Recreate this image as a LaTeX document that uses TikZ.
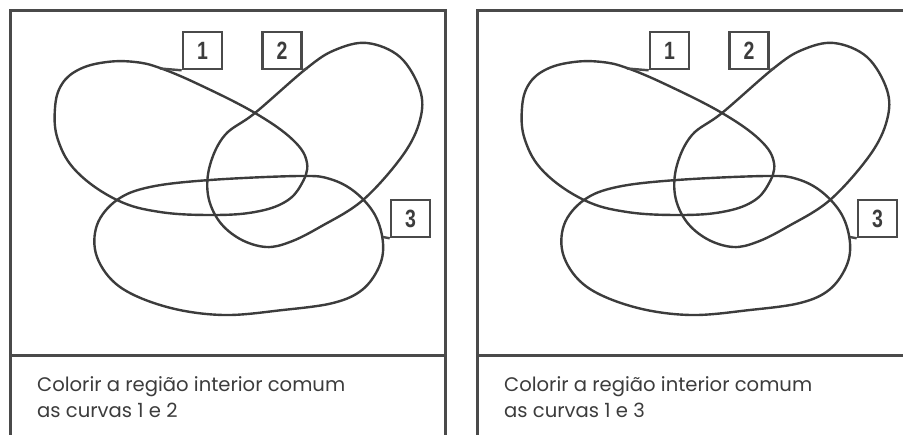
\documentclass[tikz,border=0pt]{standalone}
\usepackage{fontspec}
\setmainfont{Poppins}
\newfontfamily\numfont{Liberation Sans}
\definecolor{ink}{HTML}{3C3C3C}
\definecolor{frameink}{HTML}{4A4A4A}
\begin{document}
\begin{tikzpicture}[x=1pt,y=-1pt,
  frame/.style={draw=frameink, line width=3pt},
  curve/.style={draw=ink, line width=2.4pt, line join=round},
  tag/.style={draw=frameink, line width=2.6pt, minimum width=39pt, minimum height=37pt, inner sep=0pt,
    font=\numfont\bfseries\fontsize{25}{25}\selectfont, text=ink},
  leader/.style={draw=frameink, line width=2.4pt},
  caption/.style={anchor=base west, inner sep=0pt, font=\fontsize{19.6}{26}\selectfont, text=ink}]
\useasboundingbox (0,0) rectangle (903,435);
% frames
\draw[frame] (10.5,435) -- (10.5,10.5) -- (445,10.5) -- (445,435);
\draw[frame] (10.5,356) -- (445,356);
\draw[frame] (477,435) -- (477,10.5) -- (903,10.5);
\draw[frame] (477,356) -- (903,356);
\foreach \s/\k in {0/2, 467/3} {
\begin{scope}[xshift=\s pt]
  \draw[curve] plot[smooth cycle, tension=0.65] coordinates {
    (55,108) (62,84) (80,69) (107,62) (135,62) (160,68) (200,85) (255,113) (293,140)
    (307,163) (301,185) (285,202) (255,212) (213,215) (160,212) (117,200) (77,172) (58,140)};
  \draw[curve] plot[smooth cycle, tension=0.6] coordinates {
    (367,43) (400,57) (420,90) (420,120) (403,155) (363,200) (320,227) (290,242)
    (266,247) (240,239) (219,221) (208,195) (210,165) (225,135) (255,113) (307,68) (335,50)};
  \draw[curve] plot[smooth cycle, tension=0.6] coordinates {
    (210,180) (300,176) (330,179) (355,192) (375,215) (383,243) (379,267) (362,290)
    (333,303) (283,310) (223,315) (167,307) (120,287) (97,257) (97,225) (117,200) (150,187)};
  \node[tag] (b1-\k) at (202.5,50.5) {\scalebox{0.78}[1]{1}};
  \node[tag] (b2-\k) at (282,50.5) {\scalebox{0.78}[1]{2}};
  \node[tag] (b3-\k) at (410.5,218.5) {\scalebox{0.78}[1]{3}};
  \coordinate (c1-\k) at (160,68.5);
  \coordinate (c2-\k) at (307,68.5);
  \coordinate (c3-\k) at (383,237);
  \draw[leader] (c1-\k) -- (b1-\k.south west);
  \draw[leader] (b2-\k.south east) -- (c2-\k);
  \draw[leader] (c3-\k) -- (b3-\k.south west);
  \node[caption] (t1-\k) at (37,392) {Colorir a região interior comum};
  \node[caption] (t2-\k) at (37,418) {as curvas 1 e \k};
\end{scope}
}
\end{tikzpicture}
\end{document}
